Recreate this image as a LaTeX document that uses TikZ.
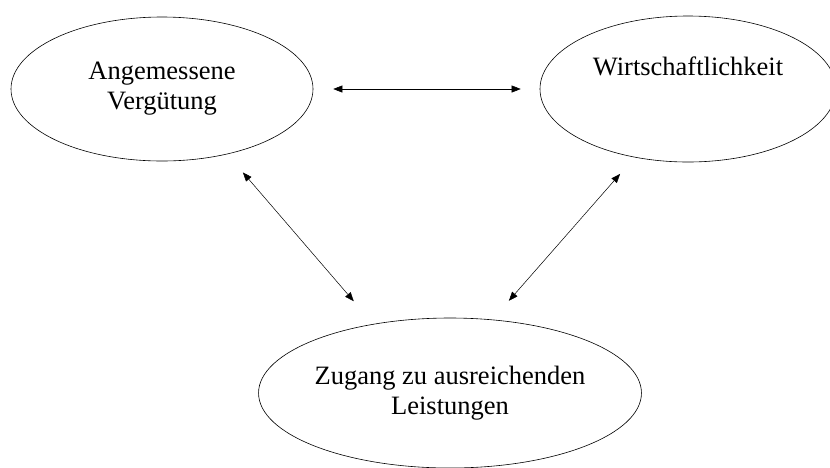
\documentclass[tikz,border=0pt]{standalone}
\usepackage{fontspec}
\setmainfont{Liberation Serif}
\usepackage{tikz}
\usetikzlibrary{positioning, shapes, arrows, arrows.meta}
\tikzset{%
  oval/.style  = {draw, ellipse, line width = 0.6pt, inner sep = 0pt,
    align = center, font = \fontsize{26.5}{30}\selectfont},
  link/.style  = {<->, line width = 0.5pt,
    >= {Triangle[length = 9pt, width = 7pt]}} % double arrow
}

\begin{document}
\begin{tikzpicture}[x = 1pt, y = -1pt]
\useasboundingbox (0,0) rectangle (830,467);
\clip (0,0) rectangle (830,467);
% ellipses
\draw
	(162,89) node [oval, minimum width = 302pt, minimum height = 144pt] (ang) {Angemessene\\Vergütung}
	(688,89) node [oval, minimum width = 296pt, minimum height = 146pt, text height = 18pt, text depth = 46pt] (wirt) {Wirtschaftlichkeit}
	(450,393) node [oval, minimum width = 382pt, minimum height = 150pt] (zug) {Zugang zu ausreichenden\\Leistungen};
% arrows
\draw[link, shorten < = 20pt, shorten > = 19pt] (ang.0) -- (wirt.180);
\draw[link, shorten < = 24pt, shorten > = 30pt] (ang.-45) -- (zug.138);
\draw[link, shorten < = 22pt, shorten > = 25pt] (wirt.-128) -- (zug.60);
\end{tikzpicture}
\end{document}
